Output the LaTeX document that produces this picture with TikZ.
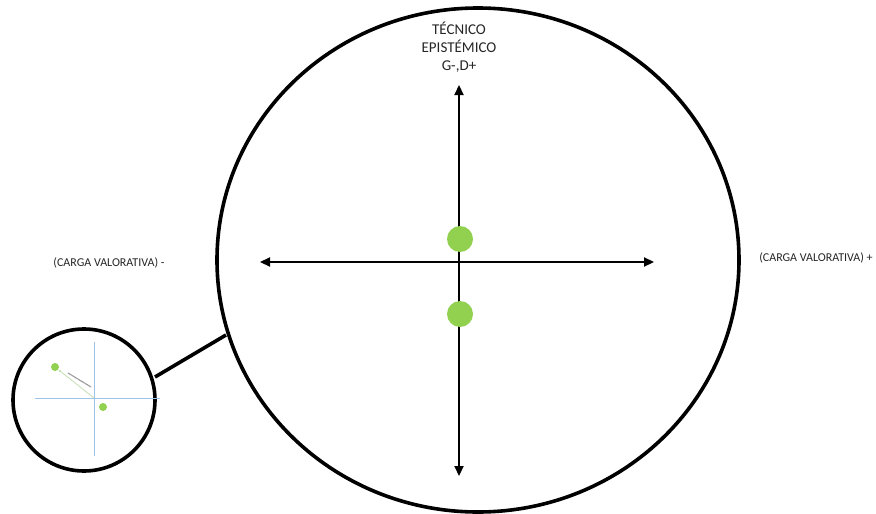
\documentclass[tikz,border=0pt]{standalone}
\usepackage{fontspec}
\setmainfont{Carlito}
\usetikzlibrary{arrows.meta,shapes.geometric}
\definecolor{dotgreen}{HTML}{92D050}
\definecolor{axisblue}{HTML}{9DC3E6}
\definecolor{lightgreen}{HTML}{C5E0B4}
\begin{document}
\begin{tikzpicture}[x=1pt,y=-1pt,
  bigring/.style={draw=black,line width=3.6pt},
  axisline/.style={draw=black,line width=2.2pt,{Triangle[length=10pt,width=9pt]}-{Triangle[length=10pt,width=9pt]}},
  gdot/.style={circle,fill=dotgreen,inner sep=0pt,minimum size=#1},
  lbl/.style={font=\fontsize{12}{14}\selectfont,text=black!85},
  toplbl/.style={font=\fontsize{15}{18}\selectfont,align=center,text=black!85}]
\useasboundingbox (0,0) rectangle (876,514);
% big ring
\node[bigring,ellipse,minimum width=522pt,minimum height=504pt,inner sep=0pt] (big) at (478,260) {};
% axes
\coordinate (xl) at (260,262);
\coordinate (xr) at (654,262);
\coordinate (yt) at (459,85);
\coordinate (yb) at (459,476);
\draw[axisline] (xl) -- (xr);
\draw[axisline] (yt) -- (yb);
% dots
\node[gdot=26pt] (d1) at (460,239) {};
\node[gdot=26pt] (d2) at (460,314) {};
% labels
\node[toplbl] (top) at (459,47) {TÉCNICO\\EPISTÉMICO\\G-,D+};
\node[lbl] (lneg) at (109,263) {(CARGA VALORATIVA) -};
\node[lbl] (lpos) at (816,258) {(CARGA VALORATIVA) +};
% small ring
\node[circle,draw=black,line width=3.6pt,minimum size=142pt,inner sep=0pt] (small) at (84,400) {};
\coordinate (ca) at (155,377);
\coordinate (cb) at (226,335);
\draw[line width=3.6pt] (ca) -- (cb);
% inside small ring
\coordinate (sv1) at (94,342);
\coordinate (sv2) at (94,456);
\coordinate (sh1) at (35,398);
\coordinate (sh2) at (160,398);
\draw[axisblue,line width=0.8pt] (sv1) -- (sv2);
\draw[axisblue,line width=0.8pt] (sh1) -- (sh2);
\node[gdot=8pt] (s1) at (55,367) {};
\node[gdot=8pt] (s2) at (103,407) {};
\coordinate (so) at (94,398);
\draw[lightgreen,line width=0.8pt,-{Triangle[length=3pt,width=2.5pt]}] (so) -- (s1);
\draw[gray!80,line width=1.2pt,dash pattern=on 1pt off 0.4pt] (68,373) -- (91,387);
\end{tikzpicture}
\end{document}
